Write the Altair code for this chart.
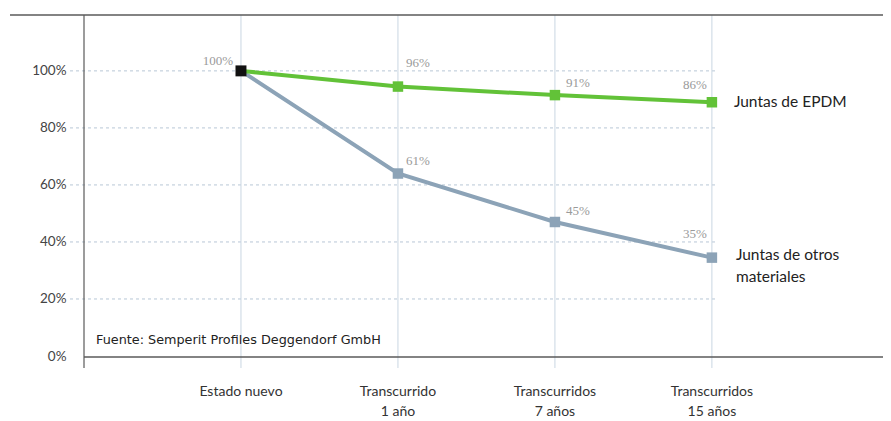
import altair as alt
import pandas as pd

categories = ["Estado nuevo", "Transcurrido\n1 año", "Transcurridos\n7 años", "Transcurridos\n15 años"]
epdm_values = [100, 94.5, 91.5, 89]
other_values = [100, 64, 47, 34.5]
epdm_labels = ["100%", "96%", "91%", "86%"]
other_labels = ["", "61%", "45%", "35%"]
series_names = ["Juntas de EPDM", "Juntas de otros\nmateriales"]
source_text = "Fuente: Semperit Profiles Deggendorf GmbH"
y_ticks = [0, 20, 40, 60, 80, 100]
grid_values = [20, 40, 60, 80, 100]

FONT = "Lato"
GREEN = "#62c238"
GREY = "#8ca3b7"
GRIDV = "#c9d6e2"
GRIDH = "#b8c7d6"
AXIS = "#5a5a5a"

W, H = 799, 341

df = pd.DataFrame({
    "idx": list(range(len(categories))),
    "cat": categories,
    "epdm": epdm_values,
    "other": other_values,
    "epdm_lab": epdm_labels,
    "other_lab": other_labels,
})
grid_df = pd.DataFrame({"v": grid_values})

base = alt.Chart(df)
X = alt.X("idx:Q", scale=alt.Scale(domain=[-1, 4.09], nice=False, zero=False), axis=None)
yscale = alt.Scale(domain=[0, 119.6], nice=False, zero=True)
yaxis = alt.Axis(values=y_ticks, labelExpr="datum.value + '%'", ticks=False, domain=False,
                 grid=False, labelPadding=18, labelFontSize=13.5, labelColor="#444",
                 labelFont=FONT, title=None)

def Y(field):
    return alt.Y(f"{field}:Q", scale=yscale, axis=yaxis)

hgrid = alt.Chart(grid_df).mark_rule(color=GRIDH, strokeDash=[3, 3], strokeWidth=1).encode(
    y=Y("v"), x=alt.value(-14), x2=alt.value(631))

vgrid = base.mark_rule(color=GRIDV, strokeWidth=1).encode(
    x=X, y=alt.value(0), y2=alt.value(H + 12))

top_line = base.transform_filter("datum.idx == 0").mark_rule(color=AXIS, strokeWidth=1.5).encode(
    x=alt.value(-74), x2=alt.value(W + 8), y=alt.value(0))
left_line = base.transform_filter("datum.idx == 0").mark_rule(color=AXIS, strokeWidth=1.2).encode(
    x=alt.value(0), y=alt.value(0), y2=alt.value(H + 12))
bottom_line = base.transform_filter("datum.idx == 0").mark_rule(color=AXIS, strokeWidth=1.5).encode(
    x=alt.value(0), x2=alt.value(W + 8), y=alt.value(H + 1))

other_line = base.mark_line(color=GREY, strokeWidth=4).encode(x=X, y=Y("other"))
other_pts = base.transform_filter("datum.idx > 0").mark_square(color=GREY, size=110, opacity=1).encode(x=X, y=Y("other"))
epdm_line = base.mark_line(color=GREEN, strokeWidth=4).encode(x=X, y=Y("epdm"))
epdm_pts = base.transform_filter("datum.idx > 0").mark_square(color=GREEN, size=110, opacity=1).encode(x=X, y=Y("epdm"))
start_pt = base.transform_filter("datum.idx == 0").mark_square(color="#111", size=120, opacity=1).encode(x=X, y=Y("epdm"))

def lab(field, labfield, i, align, dx, dy):
    return base.transform_filter(f"datum.idx == {i}").mark_text(
        align=align, baseline="middle", dx=dx, dy=dy, fontSize=13, color="#9a9a9a",
        font="Liberation Serif").encode(x=X, y=Y(field), text=f"{labfield}:N")

labels = [
    lab("epdm", "epdm_lab", 0, "right", -8, -10),
    lab("epdm", "epdm_lab", 1, "left", 8, -24),
    lab("epdm", "epdm_lab", 2, "left", 11, -12),
    lab("epdm", "epdm_lab", 3, "right", -5, -17),
    lab("other", "other_lab", 1, "left", 8, -13),
    lab("other", "other_lab", 2, "left", 11, -11),
    lab("other", "other_lab", 3, "right", -5, -24),
]

name_epdm = base.transform_filter("datum.idx == 3").mark_text(
    align="left", baseline="middle", dx=22, fontSize=15.5, color="#222", font=FONT).encode(
    x=X, y=Y("epdm"), text=alt.value(series_names[0]))
name_other = base.transform_filter("datum.idx == 3").mark_text(
    align="left", baseline="top", dx=24, dy=-10, fontSize=15.5, color="#222", font=FONT,
    lineBreak="\n", lineHeight=22).encode(
    x=X, y=Y("other"), text=alt.value(series_names[1]))

xlabels = base.mark_text(baseline="top", lineBreak="\n", lineHeight=20, fontSize=14,
                         color="#333", font=FONT).encode(
    x=X, y=alt.value(H + 29), text="cat:N")

source = base.transform_filter("datum.idx == 0").mark_text(
    align="left", baseline="middle", fontSize=12.8, color="#222", font="DejaVu Sans").encode(
    x=alt.value(12), y=alt.value(H - 16), text=alt.value(source_text))

chart = alt.layer(
    hgrid, vgrid, top_line, left_line, bottom_line,
    other_line, epdm_line, other_pts, epdm_pts, start_pt,
    *labels, name_epdm, name_other, xlabels, source
).properties(
    width=W, height=H,
    autosize=alt.AutoSizeParams(type="none"),
    padding={"left": 76, "top": 7, "right": 0, "bottom": 65},
    background="white",
).configure_view(stroke=None)

chart.save("out.html", embed_options={"renderer": "svg", "actions": False})
